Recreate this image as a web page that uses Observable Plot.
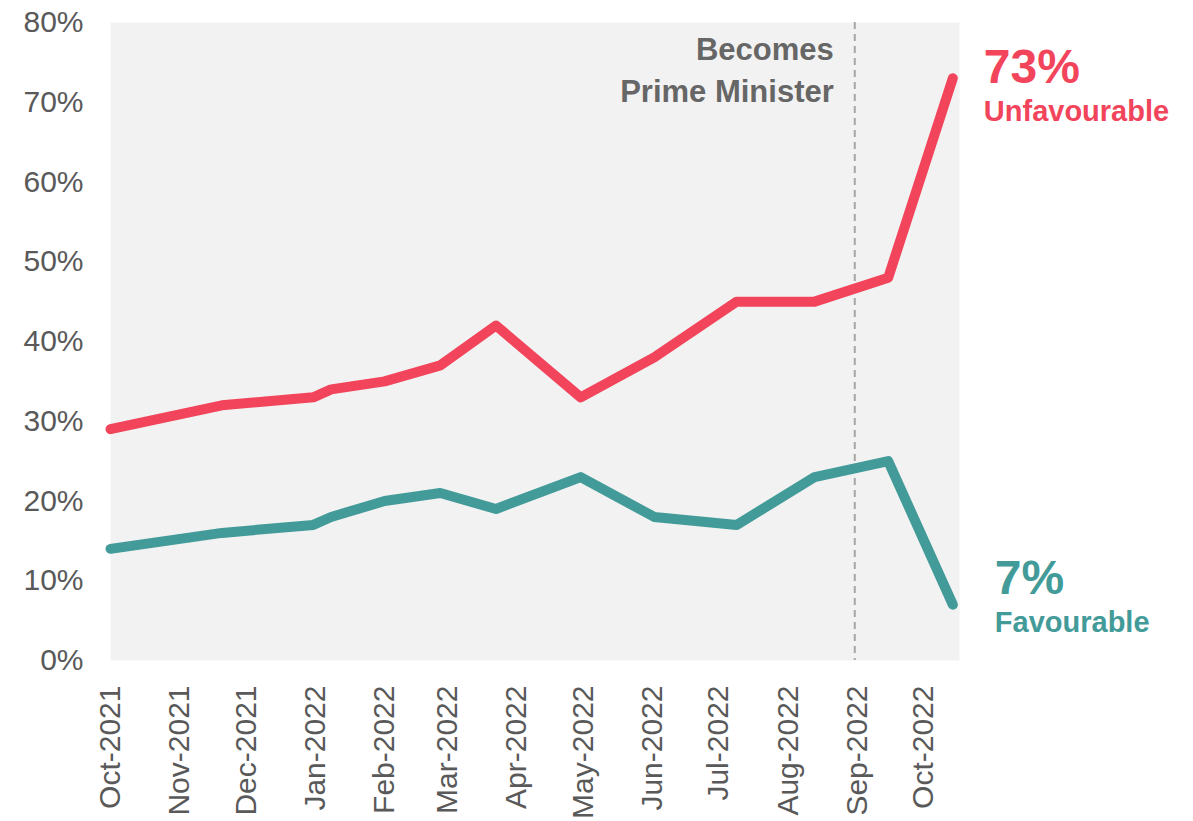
<!DOCTYPE html>
<html>
<head>
<meta charset="utf-8">
<script src="https://cdn.jsdelivr.net/npm/d3@7"></script>
<script src="https://cdn.jsdelivr.net/npm/@observablehq/plot@0.6"></script>
<style>
  html, body { margin: 0; padding: 0; background: #ffffff; }
  #chart { width: 1193px; height: 821px; }
</style>
</head>
<body>
<div id="chart"></div>
<script>
// ---- data ----
const dates = ["2021-10-01","2021-11-20","2021-12-31","2022-01-08","2022-02-01","2022-02-26","2022-03-23","2022-04-30","2022-06-02","2022-07-09","2022-08-13","2022-09-15","2022-10-14"];
const unfavourable = [29,32,33,34,35,37,42,33,38,45,45,48,73];
const favourable   = [14,16,17,18,20,21,19,23,18,17,23,25,7];
const monthTicks = ["2021-10-01","2021-11-01","2021-12-01","2022-01-01","2022-02-01","2022-03-01","2022-04-01","2022-05-01","2022-06-01","2022-07-01","2022-08-01","2022-09-01","2022-10-01"];
const yTicks = [0,10,20,30,40,50,60,70,80];
const xDomain = ["2021-10-01","2022-10-17"];
const pmDate = ["2022-08-31"];
const pmLabel = "Becomes\nPrime Minister";
const seriesNames = ["Unfavourable","Favourable"];

const RED = "#f2445a", TEAL = "#429b99";
const parse = d3.utcParse("%Y-%m-%d");
const rows = dates.map((d, i) => ({date: parse(d), unf: unfavourable[i], fav: favourable[i]}));
const last = rows[rows.length - 1];

const chart = Plot.plot({
  width: 1193,
  height: 821,
  marginLeft: 110,
  marginRight: 234,
  marginTop: 22,
  marginBottom: 161,
  x: {type: "utc", domain: xDomain.map(parse)},
  y: {domain: [0, 80]},
  style: {fontFamily: "'Liberation Sans', Arial, sans-serif", fontSize: "30px", color: "#595959", background: "#ffffff", overflow: "visible"},
  marks: [
    Plot.frame({fill: "#f2f2f2", stroke: null}),
    Plot.ruleX(pmDate.map(parse), {stroke: "#a6a6a6", strokeWidth: 2, strokeDasharray: "7,5"}),
    Plot.text([pmLabel], {x: () => parse(pmDate[0]), frameAnchor: "top", text: d => d, textAnchor: "end", lineAnchor: "bottom", lineHeight: 1.35, dx: -21, dy: 79, fill: "#666666", fontWeight: "bold", fontSize: 31}),
    Plot.lineY(rows, {x: "date", y: "unf", stroke: RED, strokeWidth: 10, strokeLinejoin: "round", strokeLinecap: "round"}),
    Plot.lineY(rows, {x: "date", y: "fav", stroke: TEAL, strokeWidth: 10, strokeLinejoin: "round", strokeLinecap: "round"}),
    Plot.text([last], {x: "date", y: "unf", text: d => d.unf + "%", textAnchor: "start", lineAnchor: "bottom", dx: 31, dy: 5, fill: RED, fontWeight: "bold", fontSize: 48}),
    Plot.text([last], {x: "date", y: "unf", text: () => seriesNames[0], textAnchor: "start", lineAnchor: "bottom", dx: 31, dy: 43, fill: RED, fontWeight: "bold", fontSize: 29}),
    Plot.text([last], {x: "date", y: "fav", text: d => d.fav + "%", textAnchor: "start", lineAnchor: "bottom", dx: 42, dy: -11, fill: TEAL, fontWeight: "bold", fontSize: 48}),
    Plot.text([last], {x: "date", y: "fav", text: () => seriesNames[1], textAnchor: "start", lineAnchor: "bottom", dx: 42, dy: 27, fill: TEAL, fontWeight: "bold", fontSize: 29}),
    Plot.axisY({ticks: yTicks, tickFormat: d => d + "%", tickSize: 0, tickPadding: 27, label: null, fontSize: 30, fill: "#595959"}),
    Plot.axisX({ticks: monthTicks.map(parse), tickFormat: d3.utcFormat("%b-%Y"), tickRotate: -90, tickSize: 0, tickPadding: 25, label: null, fontSize: 30, fill: "#595959"})
  ]
});
document.getElementById("chart").appendChild(chart);
</script>
</body>
</html>
